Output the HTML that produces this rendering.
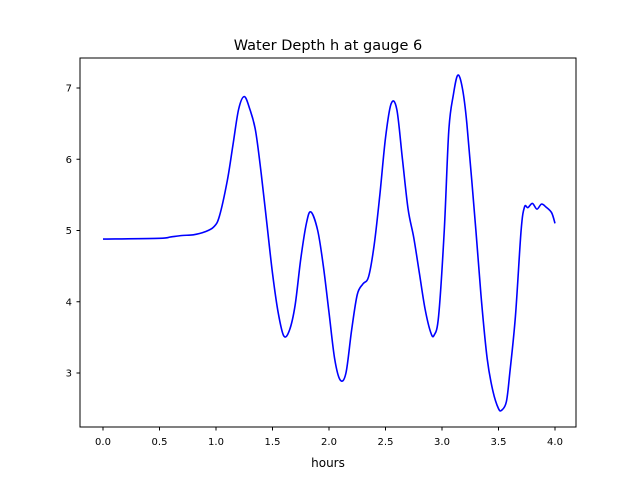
<!DOCTYPE html>
<html><head><meta charset="utf-8"><style>
body{margin:0;background:#fff;font-family:"Liberation Sans","DejaVu Sans",sans-serif}
svg text{font-family:"DejaVu Sans","Liberation Sans",sans-serif}
</style></head><body>
<svg id="chart" width="640" height="480" viewBox="0 0 640 480" xmlns="http://www.w3.org/2000/svg">
<rect width="640" height="480" fill="#fff"/>
<text x="328" y="50" font-size="14.5" text-anchor="middle">Water Depth h at gauge 6</text>
<g id="ticks"></g>
<path id="line" fill="none" stroke="#0000ff" stroke-width="1.6"/>
<rect x="80" y="58" width="496" height="369" fill="none" stroke="#000" stroke-width="1"/>
<text x="328" y="467" font-size="12" text-anchor="middle">hours</text>
</svg>
<script>
const hours=[0,0.5,0.6,0.7,0.8,0.9,0.98,1.03,1.1,1.15,1.2,1.25,1.3,1.35,1.4,1.45,1.5,1.55,1.6,1.65,1.7,1.75,1.8,1.84,1.9,1.95,2.0,2.05,2.1,2.15,2.2,2.25,2.3,2.35,2.4,2.45,2.5,2.55,2.6,2.65,2.7,2.75,2.8,2.85,2.9,2.93,2.97,3.02,3.06,3.1,3.14,3.18,3.22,3.3,3.35,3.4,3.45,3.5,3.53,3.57,3.6,3.65,3.7,3.73,3.76,3.8,3.84,3.88,3.92,3.97,4.0];
const depth=[4.88,4.89,4.91,4.93,4.94,4.98,5.05,5.2,5.7,6.2,6.7,6.88,6.7,6.4,5.8,5.1,4.4,3.85,3.52,3.6,3.95,4.6,5.1,5.26,5.0,4.5,3.85,3.2,2.9,3.0,3.6,4.1,4.25,4.35,4.8,5.5,6.3,6.78,6.7,6.0,5.3,4.9,4.4,3.9,3.57,3.53,3.8,5.0,6.4,6.9,7.18,7.0,6.5,5.0,4.0,3.2,2.75,2.5,2.48,2.6,3.0,3.8,5.0,5.33,5.32,5.38,5.3,5.37,5.33,5.25,5.1];
const xTicks=[0,0.5,1,1.5,2,2.5,3,3.5,4];
const xTickLabels=["0.0","0.5","1.0","1.5","2.0","2.5","3.0","3.5","4.0"];
const yTicks=[3,4,5,6,7];
const yTickLabels=["3","4","5","6","7"];
const X=v=>103+v*113, Y=v=>88+(7-v)*71.25;
const NS="http://www.w3.org/2000/svg";
const g=document.getElementById('ticks');
function mk(t,a){const e=document.createElementNS(NS,t);for(const k in a)e.setAttribute(k,a[k]);g.appendChild(e);return e;}
xTicks.forEach((v,i)=>{
 const l=mk('line',{x1:X(v),x2:X(v),y1:427,y2:430.5,stroke:'#000'});
 
 
 const t=mk('text',{x:X(v),y:445,'font-size':10,'text-anchor':'middle'});t.textContent=xTickLabels[i];
 
 
});
yTicks.forEach((v,i)=>{
 const l=mk('line',{x1:76.5,x2:80,y1:Y(v),y2:Y(v),stroke:'#000'});
 
 
 const t=mk('text',{x:72,y:Y(v)+3.5,'font-size':10,'text-anchor':'end'});t.textContent=yTickLabels[i];
 
 
});
const P=hours.map((h,i)=>[X(h),Y(depth[i])]);
let d='M'+P[0][0]+','+P[0][1];
for(let i=0;i<P.length-1;i++){
 const p0=P[Math.max(0,i-1)],p1=P[i],p2=P[i+1],p3=P[Math.min(P.length-1,i+2)];
 const c1=[p1[0]+(p2[0]-p0[0])/6,p1[1]+(p2[1]-p0[1])/6],c2=[p2[0]-(p3[0]-p1[0])/6,p2[1]-(p3[1]-p1[1])/6];
 d+=` C${c1[0]},${c1[1]} ${c2[0]},${c2[1]} ${p2[0]},${p2[1]}`;
}
document.getElementById('line').setAttribute('d',d);
</script>
</body></html>
